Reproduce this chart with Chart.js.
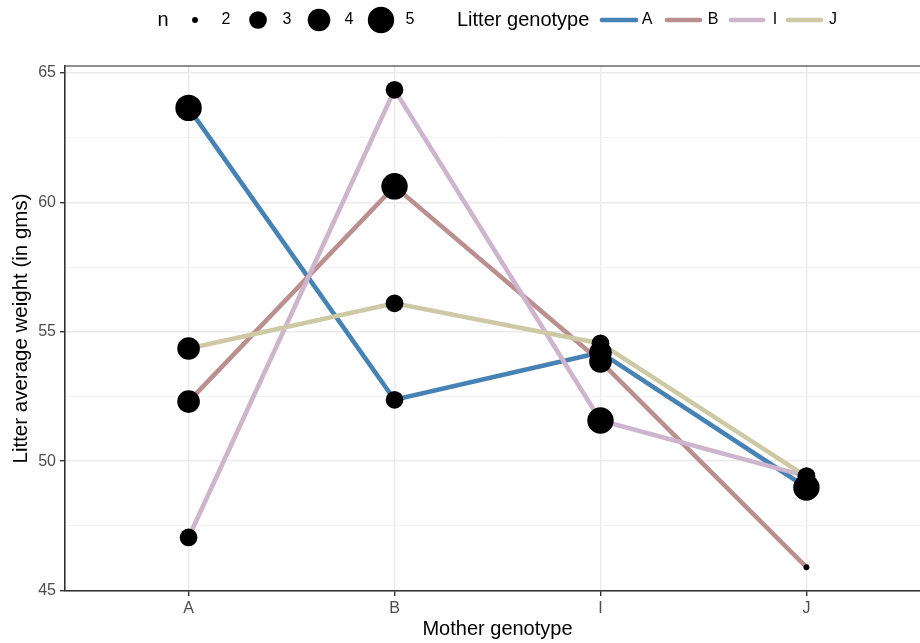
<!DOCTYPE html>
<html>
<head>
<meta charset="utf-8">
<script src="https://cdn.jsdelivr.net/npm/chart.js@4"></script>
<style>
  html, body { margin: 0; padding: 0; background: #fff; overflow: hidden; }
  #wrap { position: relative; width: 920px; height: 643px; overflow: hidden; }
  #weightChart { display: block; width: 930px; height: 643px; }
</style>
</head>
<body>
<div id="wrap"><canvas id="weightChart" width="930" height="643"></canvas></div>
<script>
// Mother genotype on x, one line per litter genotype
const categories = ["A", "B", "I", "J"];
const genotypes = ["A", "B", "I", "J"];

const weightA = [63.65, 52.37, 54.2, 48.98];
const weightB = [52.3, 60.62, 53.85, 45.9];
const weightI = [47.05, 64.35, 51.57, 49.42];
const weightJ = [54.35, 56.1, 54.55, 49.4];

// litter counts (point size)
const countA = [5, 3, 4, 5];
const countB = [4, 5, 4, 2];
const countI = [3, 3, 5, 3];
const countJ = [4, 3, 3, 3];

const sizeBreaks = [2, 3, 4, 5];
const yTicks = [45, 47.5, 50, 52.5, 55, 57.5, 60, 62.5, 65];

const lineColors = ["#4682B4", "#BC8F8F", "#CDB5CD", "#CDC9A5"];
const FONT = '"Liberation Sans", Arial, sans-serif';

// area-style size scale, smallest n -> smallest dot
function pointSize(n) {
  const t = (n - sizeBreaks[0]) / (sizeBreaks[sizeBreaks.length - 1] - sizeBreaks[0]);
  const size = 1 + 5 * Math.sqrt(t);
  return 2.05 * size + 0.9;
}

function toPoints(values) {
  return values.map((v, i) => ({ x: i + 1, y: v }));
}

const weights = [weightA, weightB, weightI, weightJ];
const counts = [countA, countB, countI, countJ];

const lineSets = genotypes.map((g, k) => ({
  label: g,
  data: toPoints(weights[k]),
  borderColor: lineColors[k],
  backgroundColor: lineColors[k],
  borderWidth: 4.6,
  pointRadius: 0,
  tension: 0,
  order: 10 - k,
}));

const pointSets = genotypes.map((g, k) => ({
  label: "n " + g,
  data: toPoints(weights[k]),
  showLine: false,
  pointRadius: (c) => pointSize(counts[k][c.dataIndex]),
  pointBackgroundColor: "#000",
  pointBorderWidth: 0,
  order: 0,
}));

const isMajor = (v) => Math.abs(v % 5) < 1e-6;

// panel border on top of everything
const borderPlugin = {
  id: "panelBorder",
  afterDraw(chart) {
    const { ctx, chartArea } = chart;
    ctx.save();
    ctx.strokeStyle = "#333333";
    ctx.lineWidth = 1.1;
    ctx.strokeRect(chartArea.left, chartArea.top, chartArea.right - chartArea.left, chartArea.bottom - chartArea.top);
    ctx.restore();
  },
};

// ggplot-like legend row at the top
const legendPlugin = {
  id: "ggLegend",
  afterDraw(chart) {
    const ctx = chart.ctx;
    const y = 20;
    ctx.save();
    ctx.textBaseline = "middle";
    ctx.fillStyle = "#000";
    ctx.textAlign = "center";
    ctx.font = "20px " + FONT;
    ctx.fillText("n", 163, y);

    const dotX = [195, 258, 319, 381];
    const dotLabelX = [226, 287, 349, 410];
    sizeBreaks.forEach((n, i) => {
      ctx.beginPath();
      ctx.arc(dotX[i], y, pointSize(n), 0, Math.PI * 2);
      ctx.fill();
      ctx.font = "16px " + FONT;
      ctx.fillText(String(n), dotLabelX[i], y);
    });

    ctx.textAlign = "left";
    ctx.font = "20px " + FONT;
    ctx.fillText("Litter genotype", 457, y);

    const keyX0 = [602, 667, 731, 788];
    const keyX1 = [636, 700, 763, 821];
    const keyLabelX = [647, 713, 775, 833];
    genotypes.forEach((g, i) => {
      ctx.strokeStyle = lineColors[i];
      ctx.lineWidth = 4.6;
      ctx.lineCap = "round";
      ctx.beginPath();
      ctx.moveTo(keyX0[i], y);
      ctx.lineTo(keyX1[i], y);
      ctx.stroke();
      ctx.textAlign = "center";
      ctx.font = "16px " + FONT;
      ctx.fillText(g, keyLabelX[i], y);
    });
    ctx.restore();
  },
};

const ctx = document.getElementById("weightChart").getContext("2d");
new Chart(ctx, {
  type: "line",
  data: { datasets: [...lineSets, ...pointSets] },
  options: {
    responsive: false,
    maintainAspectRatio: false,
    animation: false,
    layout: { autoPadding: false, padding: { top: 66, left: 0, right: 0, bottom: 0 } },
    plugins: {
      legend: { display: false },
      tooltip: { enabled: false },
    },
    scales: {
      x: {
        type: "linear",
        min: 0.4,
        max: 4.6,
        afterBuildTicks: (scale) => {
          scale.ticks = categories.map((c, i) => ({ value: i + 1 }));
        },
        afterFit: (scale) => {
          scale.height = 52;
          scale.paddingLeft = 0;
          scale.paddingRight = 0;
        },
        ticks: {
          callback: (v) => categories[v - 1],
          color: "#4D4D4D",
          font: { family: FONT, size: 16 },
          padding: 3,
          maxRotation: 0,
        },
        grid: {
          color: "#EBEBEB",
          lineWidth: 1.4,
          tickLength: 5,
          tickColor: "#333333",
        },
        border: { display: true, color: "#333333", width: 1.1 },
        title: {
          display: true,
          text: "Mother genotype",
          color: "#000",
          font: { family: FONT, size: 20 },
          padding: { top: 0, bottom: 2 },
        },
      },
      y: {
        type: "linear",
        min: 44.98,
        max: 65.27,
        afterBuildTicks: (scale) => {
          scale.ticks = yTicks.map((v) => ({ value: v }));
        },
        afterFit: (scale) => {
          scale.width = 65;
          scale.paddingTop = 0;
          scale.paddingBottom = 0;
        },
        ticks: {
          callback: (v) => (isMajor(v) ? String(v) : ""),
          color: "#4D4D4D",
          font: { family: FONT, size: 16 },
          padding: 4,
        },
        grid: {
          color: (c) => (isMajor(c.tick.value) ? "#EBEBEB" : "#F2F2F2"),
          lineWidth: (c) => (isMajor(c.tick.value) ? 1.4 : 0.9),
          tickLength: 5,
          tickColor: (c) => (isMajor(c.tick.value) ? "#333333" : "rgba(0,0,0,0)"),
        },
        border: { display: true, color: "#333333", width: 1.1 },
        title: {
          display: true,
          text: "Litter average weight (in gms)",
          color: "#000",
          font: { family: FONT, size: 20.5 },
          padding: { top: 9, bottom: 0 },
        },
      },
    },
  },
  plugins: [borderPlugin, legendPlugin],
});
</script>
</body>
</html>
